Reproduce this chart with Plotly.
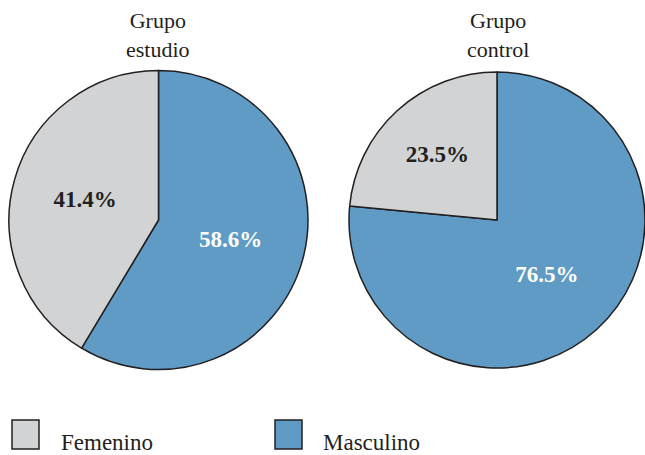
import plotly.graph_objects as go

W, H = 645, 455

categories = ["Masculino", "Femenino"]
estudio_values = [58.6, 41.4]
control_values = [76.5, 23.5]
group_titles = ["Grupo<br>estudio", "Grupo<br>control"]
legend_labels = ["Femenino", "Masculino"]

colors = {"Masculino": "#5f9bc4", "Femenino": "#d1d3d4"}
text_colors = {"Masculino": "white", "Femenino": "#231f20"}
edge = "#231f20"
serif = "Liberation Serif, Times New Roman, serif"


def px(x):
    return x / W


def py(y):
    return (H - y) / H


fig = go.Figure()

domains = [
    dict(x=[px(9), px(308)], y=[py(370), py(70)]),
    dict(x=[px(349), 1.0], y=[py(370), py(70)]),
]

for vals, dom in zip([estudio_values, control_values], domains):
    fig.add_trace(go.Pie(
        labels=categories,
        values=vals,
        sort=False,
        direction="clockwise",
        rotation=0,
        domain=dom,
        marker=dict(colors=[colors[c] for c in categories],
                    line=dict(color=edge, width=1.5)),
        texttemplate="%{percent:.1%}",
        textposition="inside",
        insidetextorientation="horizontal",
        textfont=dict(family=serif, size=23, weight="bold",
                      color=[text_colors[c] for c in categories]),
        hoverinfo="label+percent",
        showlegend=False,
    ))

annotations = []
for title, cx in zip(group_titles, [158, 498]):
    annotations.append(dict(
        text=title, x=px(cx), y=py(6), xref="paper", yref="paper",
        xanchor="center", yanchor="top", showarrow=False,
        font=dict(family=serif, size=22, color="#231f20"), align="center",
    ))

shapes = []
for label, sx, tx in zip(legend_labels, [12, 275], [59, 321]):
    shapes.append(dict(
        type="rect", xref="paper", yref="paper",
        x0=px(sx), x1=px(sx + 27), y0=py(449), y1=py(420),
        fillcolor=colors[label], line=dict(color=edge, width=1.5),
    ))
    annotations.append(dict(
        text=label, x=px(tx), y=py(442), xref="paper", yref="paper",
        xanchor="left", yanchor="middle", showarrow=False,
        font=dict(family=serif, size=23, color="#231f20"),
    ))

fig.update_layout(
    width=W, height=H,
    margin=dict(l=0, r=0, t=0, b=0),
    paper_bgcolor="white", plot_bgcolor="white",
    annotations=annotations, shapes=shapes,
    showlegend=False,
)

fig.write_html(
    "out.html",
    config={"displayModeBar": False},
    post_script="document.body.style.margin='0px';document.body.style.overflow='hidden';",
)
